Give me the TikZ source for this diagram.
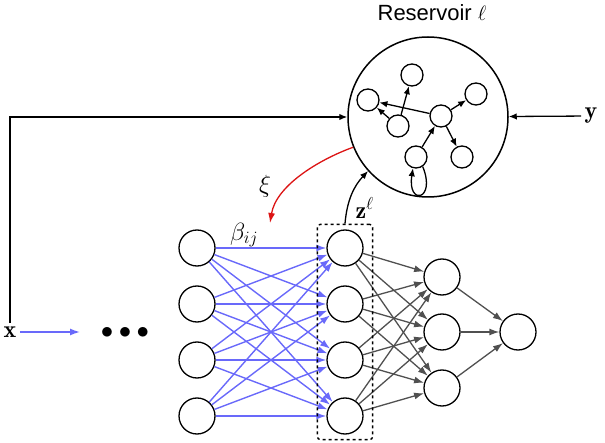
\documentclass[tikz,border=0pt]{standalone}
\usepackage{amsmath,amssymb}
\usepackage{fontspec}
\newfontfamily\labelfont{Liberation Sans}
\usetikzlibrary{arrows.meta,positioning,calc,fit}
\definecolor{edgeblue}{RGB}{105,105,250}
\definecolor{edgegray}{RGB}{80,80,80}
\definecolor{xired}{RGB}{220,20,20}

\begin{document}
\begin{tikzpicture}[x=1pt,y=-1pt,font=\fontsize{24}{28}\selectfont,
  neuron/.style={circle,draw,line width=1.3pt,minimum size=36pt,inner sep=0pt},
  unit/.style={circle,draw,line width=1.3pt,minimum size=22pt,inner sep=0pt},
  res/.style={circle,draw,line width=1.5pt,minimum size=160pt,inner sep=0pt},
  arr/.style={-{Latex[length=8pt,width=6.5pt]},line width=1.3pt},
  barr/.style={-{Latex[length=10pt,width=7pt]},edgeblue,line width=1.4pt},
  garr/.style={-{Latex[length=10pt,width=7pt]},edgegray,line width=1.3pt},
  rarr/.style={-{Latex[length=10pt,width=7pt]},xired,line width=1.3pt}]
\useasboundingbox (0,0) rectangle (605,443);
% reservoir
\node[res] (res) at (428,117) {};
\node[font=\fontsize{22}{26}\selectfont\labelfont] (restitle) at (432,13) {Reservoir $\ell$};
\node[unit] (r1) at (412,75) {};
\node[unit] (r2) at (368,100) {};
\node[unit] (r3) at (398,126) {};
\node[unit] (r4) at (441,116) {};
\node[unit] (r5) at (476,94) {};
\node[unit] (r6) at (416,157) {};
\node[unit] (r7) at (462,157) {};
\draw[arr] (r3)--(r1); \draw[arr] (r3)--(r2); \draw[arr] (r4)--(r2);
\draw[arr] (r4)--(r5); \draw[arr] (r4)--(r7); \draw[arr] (r6)--(r4);
\draw[arr] (r6.-55) .. controls +(14,34) and +(-6,38) .. (r6.-105);
% inputs and outputs
\node (xin) at (10,332) {$\mathbf{x}$};
\node (yout) at (591,116) {$\mathbf{y}$};
\draw[arr] (xin) |- (res);
\draw[arr] (yout) -- (res);
\coordinate (xtip) at (80,332);
\draw[barr] (xin) -- (xtip);
\node (dots) at (125,333) {$\bullet\hspace{0pt}\bullet\hspace{0pt}\bullet$};
% network
\foreach \i/\y in {1/248,2/304,3/360,4/416} {
  \node[neuron] (a\i) at (197,\y) {};
  \node[neuron] (b\i) at (345,\y) {};
}
\foreach \i/\y in {1/277,2/332,3/388}
  \node[neuron] (c\i) at (442,\y) {};
\node[neuron] (out) at (518,332) {};
\foreach \i in {1,...,4}
  \foreach \j in {1,...,4}
    \draw[barr] (a\i) -- (b\j);
\foreach \i in {1,...,4}
  \foreach \j in {1,...,3}
    \draw[garr] (b\i) -- (c\j);
\foreach \j in {1,...,3}
  \draw[garr] (c\j) -- (out);
\node[draw,dashed,line width=1.4pt,rounded corners=3pt,inner xsep=9pt,inner ysep=5pt,fit=(b1)(b4)] (zbox) {};
\node (beta) at (244,235) {$\beta_{ij}$};
% feedback
\coordinate (xiend) at (270,223);
\draw[rarr] (res.202) .. controls (318,160) and (276,186) .. (xiend);
\node (xi) at (265,186) {$\xi$};
\draw[arr] (zbox.north) .. controls (347,200) and (354,186) .. (res.222);
\node[anchor=west] (zlab) at (352,208) {$\mathbf{z}^{\ell}$};
\end{tikzpicture}
\end{document}
